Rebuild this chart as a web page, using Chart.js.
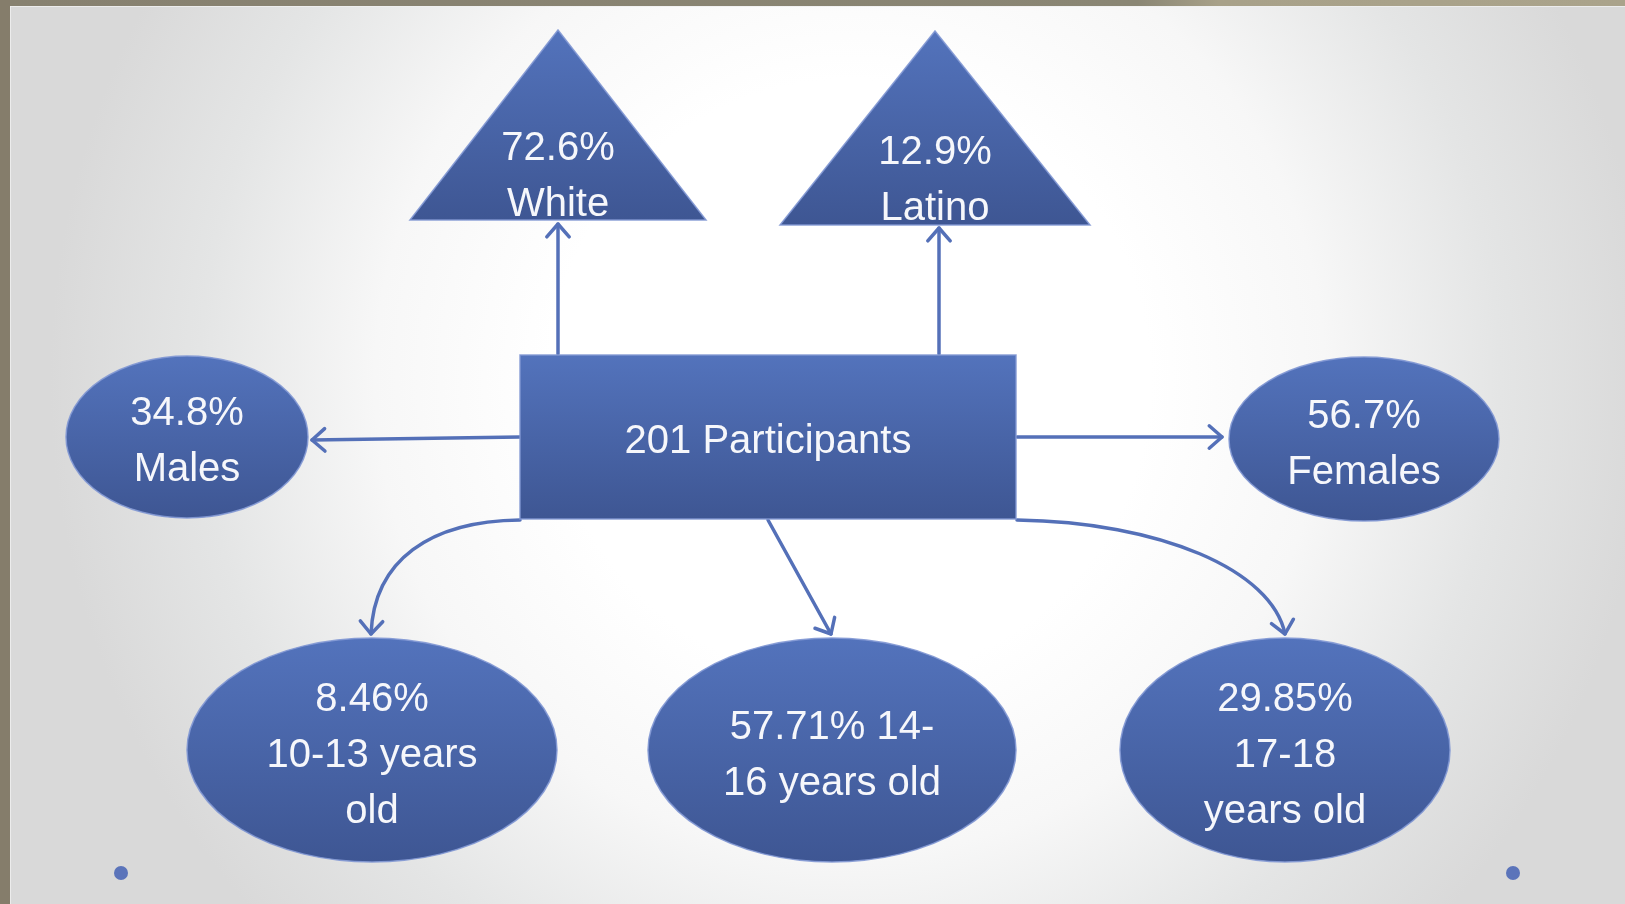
<!DOCTYPE html>
<html>
<head>
<meta charset="utf-8">
<script src="https://cdn.jsdelivr.net/npm/chart.js@4"></script>
<style>
  html, body { margin: 0; padding: 0; background: #d9d9d9; overflow: hidden; }
  canvas { display: block; }
</style>
</head>
<body>
<canvas id="diagram" width="1625" height="904"></canvas>
<script>
// DATA
const nodeNames = ["White", "Latino", "Participants", "Males", "Females", "10-13 years old", "14-16 years old", "17-18 years old"];
const nodeValues = [72.6, 12.9, 201, 34.8, 56.7, 8.46, 57.71, 29.85];

// text as it wraps inside each shape
const nodeLines = [
  [nodeValues[0] + "%", "White"],
  [nodeValues[1] + "%", "Latino"],
  [nodeValues[2] + " Participants"],
  [nodeValues[3] + "%", "Males"],
  [nodeValues[4] + "%", "Females"],
  [nodeValues[5] + "%", "10-13 years", "old"],
  [nodeValues[6] + "% 14-", "16 years old"],
  [nodeValues[7] + "%", "17-18", "years old"],
];

// LAYOUT (canvas units, read through the chart scales)
const nodeShape = ["triangle", "triangle", "rect", "ellipse", "ellipse", "ellipse", "ellipse", "ellipse"];
const nodeX = [558, 935, 768, 187, 1364, 372, 832, 1285];
const nodeY = [125, 128, 437, 437, 439, 750, 750, 750];
const nodeHalfW = [148, 155, 248, 121, 135, 185, 184, 165];
const nodeHalfH = [95, 97, 82, 81, 82, 112, 112, 112];
const textY = [174, 178, 439, 439, 442, 753, 753, 753];

const edges = [
  { from: [558, 354], to: [558, 224] },
  { from: [939, 354], to: [939, 228] },
  { from: [520, 437], to: [312, 440] },
  { from: [1017, 437], to: [1222, 437] },
  { from: [520, 520], c1: [430, 521], c2: [374, 560], to: [371, 634] },
  { from: [768, 520], to: [831, 634] },
  { from: [1017, 520], c1: [1160, 522], c2: [1272, 570], to: [1285, 634] },
];

const bulletX = [121, 1513];
const bulletY = [873, 873];

const SHAPE_TOP = "#5373bc";
const SHAPE_BOTTOM = "#3e5693";
const LINE_COLOR = "#5470b8";

function px(chart, x, y) {
  return [chart.scales.x.getPixelForValue(x), chart.scales.y.getPixelForValue(y)];
}

const diagramPlugin = {
  id: "diagram",
  beforeDraw(chart) {
    const ctx = chart.ctx;
    const w = chart.width, h = chart.height;
    ctx.save();
    // slide background, soft radial glow
    const g = ctx.createRadialGradient(850, 380, 300, 850, 380, 800);
    g.addColorStop(0, "#ffffff");
    g.addColorStop(0.35, "#f7f7f7");
    g.addColorStop(0.7, "#e4e5e5");
    g.addColorStop(1, "#d9d9d9");
    ctx.fillStyle = g;
    ctx.fillRect(0, 0, w, h);
    // window frame strips
    const tg = ctx.createLinearGradient(0, 0, w, 0);
    tg.addColorStop(0, "#878170");
    tg.addColorStop(0.7, "#8a8674");
    tg.addColorStop(0.75, "#a8a189");
    tg.addColorStop(1, "#aaa38b");
    ctx.fillStyle = tg;
    ctx.fillRect(0, 0, w, 6);
    ctx.fillStyle = "#857d6b";
    ctx.fillRect(0, 0, 10, h);
    ctx.fillStyle = "rgba(240,240,240,0.8)";
    ctx.fillRect(10, 6, 1, h);
    ctx.fillRect(10, 6, w, 1);
    ctx.restore();
  },
  beforeDatasetsDraw(chart) {
    const ctx = chart.ctx;
    ctx.save();
    ctx.strokeStyle = LINE_COLOR;
    ctx.lineWidth = 3.5;
    ctx.lineCap = "round";
    ctx.lineJoin = "round";
    edges.forEach(e => {
      const a = px(chart, e.from[0], e.from[1]);
      const b = px(chart, e.to[0], e.to[1]);
      ctx.beginPath();
      ctx.moveTo(a[0], a[1]);
      let dir;
      if (e.c1) {
        const c1 = px(chart, e.c1[0], e.c1[1]);
        const c2 = px(chart, e.c2[0], e.c2[1]);
        ctx.bezierCurveTo(c1[0], c1[1], c2[0], c2[1], b[0], b[1]);
        dir = Math.atan2(b[1] - c2[1], b[0] - c2[0]);
      } else {
        ctx.lineTo(b[0], b[1]);
        dir = Math.atan2(b[1] - a[1], b[0] - a[0]);
      }
      ctx.stroke();
      // open arrow head
      const len = 17, spread = 0.72;
      ctx.beginPath();
      ctx.moveTo(b[0] - len * Math.cos(dir - spread), b[1] - len * Math.sin(dir - spread));
      ctx.lineTo(b[0], b[1]);
      ctx.lineTo(b[0] - len * Math.cos(dir + spread), b[1] - len * Math.sin(dir + spread));
      ctx.stroke();
    });
    ctx.restore();
  },
  afterDatasetsDraw(chart) {
    const ctx = chart.ctx;
    const meta = chart.getDatasetMeta(0);
    const sx = chart.scales.x, sy = chart.scales.y;
    ctx.save();
    meta.data.forEach((pt, i) => {
      const cx = pt.x, cy = pt.y;
      const hw = Math.abs(sx.getPixelForValue(nodeHalfW[i]) - sx.getPixelForValue(0));
      const hh = Math.abs(sy.getPixelForValue(nodeHalfH[i]) - sy.getPixelForValue(0));
      const grad = ctx.createLinearGradient(0, cy - hh, 0, cy + hh);
      grad.addColorStop(0, SHAPE_TOP);
      grad.addColorStop(1, SHAPE_BOTTOM);
      ctx.beginPath();
      if (nodeShape[i] === "triangle") {
        ctx.moveTo(cx, cy - hh);
        ctx.lineTo(cx + hw, cy + hh);
        ctx.lineTo(cx - hw, cy + hh);
        ctx.closePath();
      } else if (nodeShape[i] === "rect") {
        ctx.rect(cx - hw, cy - hh, hw * 2, hh * 2);
      } else {
        ctx.ellipse(cx, cy, hw, hh, 0, 0, Math.PI * 2);
      }
      ctx.fillStyle = grad;
      ctx.fill();
      ctx.strokeStyle = "rgba(130,152,212,0.9)";
      ctx.lineWidth = 1.5;
      ctx.stroke();

      // label
      ctx.fillStyle = "#f6f7fb";
      ctx.font = '40px "Liberation Sans", Arial, sans-serif';
      ctx.textAlign = "center";
      ctx.textBaseline = "alphabetic";
      const lines = nodeLines[i];
      const ty = sy.getPixelForValue(textY[i]);
      lines.forEach((line, k) => {
        const y = ty + (k - (lines.length - 1) / 2) * 56 + 14;
        ctx.fillText(line, cx, y);
      });
    });
    ctx.restore();
  }
};

new Chart(document.getElementById("diagram"), {
  type: "scatter",
  data: {
    datasets: [
      {
        label: "Participants",
        data: nodeNames.map((n, i) => ({ x: nodeX[i], y: nodeY[i] })),
        pointRadius: 0,
        pointHoverRadius: 0,
      },
      {
        label: "bullets",
        data: bulletX.map((x, i) => ({ x: x, y: bulletY[i] })),
        pointRadius: 7,
        pointBackgroundColor: "#5b74ba",
        pointBorderWidth: 0,
      },
    ],
  },
  options: {
    responsive: false,
    devicePixelRatio: 1,
    animation: false,
    events: [],
    layout: { padding: 0, autoPadding: false },
    scales: {
      x: { type: "linear", min: 0, max: 1625, display: false },
      y: { type: "linear", min: 0, max: 904, reverse: true, display: false },
    },
    plugins: {
      legend: { display: false },
      tooltip: { enabled: false },
    },
  },
  plugins: [diagramPlugin],
});
</script>
</body>
</html>
